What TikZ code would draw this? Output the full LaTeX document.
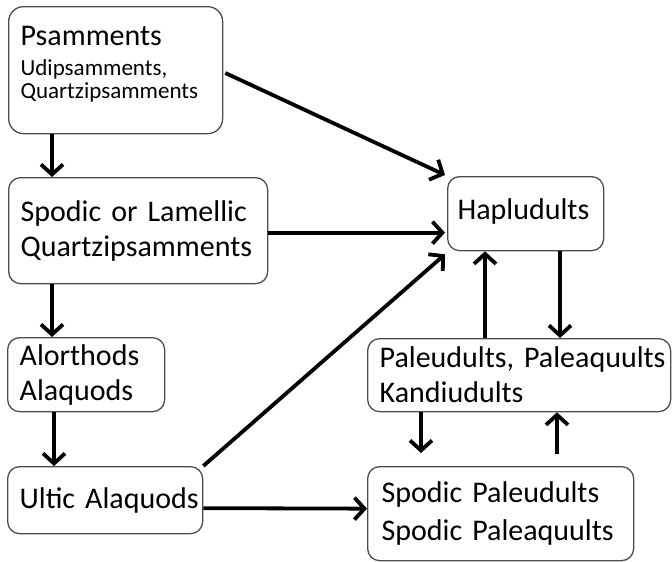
\documentclass[tikz,border=0pt]{standalone}
\usepackage{fontspec}
\setmainfont{Carlito}
\usepackage{tikz}
\usetikzlibrary{
  arrows.meta,
  calc,         % Calculations $...$
}
\def\mybig{\fontsize{30}{35}\selectfont}
\def\mysmall{\fontsize{23}{23}\selectfont}
\tikzset{
  font=\mybig,
  my box/.style={
    draw=black!70,
    line width=1.3pt,
    rounded corners=12pt,
    inner xsep=12pt,
    inner ysep=0pt,
    align=left,
    anchor=north west
  },
  my arrow/.style={
    -{Straight Barb[length=10pt,width=22pt]},
    line width=3.8pt
  }
}
\begin{document}
\begin{tikzpicture}[x=1pt,y=-1pt]
\useasboundingbox (0,0) rectangle (672,562);
% boxes (top left corner at pixel position; lines in \mbox, so they never wrap)
\node[my box,font=\mysmall,text width=190pt,minimum width=214pt,minimum height=127pt,rounded corners=15pt] (psam) at (8,6)
  {\mbox{\mybig Psamments}\\[7pt]\mbox{Udipsamments,}\\\mbox{Quartzipsamments}\rule[-15pt]{0pt}{1pt}};
\node[my box,text width=235pt,minimum width=259pt,minimum height=106pt] (spod) at (8,177)
  {\mbox{Spodic or Lamellic}\\\mbox{Quartzipsamments}};
\node[my box,text width=133pt,minimum width=157pt,minimum height=74pt] (alor) at (7,337)
  {\mbox{Alorthods}\\\mbox{Alaquods}};
\node[my box,text width=171pt,minimum width=195pt,minimum height=67pt] (ult) at (7,466)
  {\mbox{Ultic Alaquods}};
\node[my box,text width=136pt,minimum width=156pt,minimum height=74pt,inner xsep=10pt] (hap) at (447,176)
  {\mbox{Hapludults}\rule[-9pt]{0pt}{1pt}};
\node[my box,text width=279pt,minimum width=303pt,minimum height=73pt,inner xsep=11pt] (pal) at (367,338)
  {\mbox{Paleudults, Paleaquults}\\\mbox{Kandiudults}};
\node[my box,text width=238pt,minimum width=266pt,minimum height=94pt,inner xsep=14pt] (sppal) at (367,466)
  {\mbox{Spodic Paleudults}\\[3pt]\mbox{Spodic Paleaquults}};
% connectors
\draw[my arrow] ($(psam.south west)+(44,0)$) -- ($(spod.north west)+(44,0)$);
\draw[my arrow] ($(spod.south west)+(44,0)$) -- ($(alor.north west)+(45,0)$);
\draw[my arrow] ($(alor.south west)+(47,0)$) -- ($(ult.north west)+(47,0)$);
\draw[my arrow] ($(psam.north east)+(2,67)$) -- ($(hap.north west)+(-2,-1)$);
\draw[my arrow] ($(spod.east)+(0,2)$) -- ($(hap.west)+(-2,19)$);
\draw[my arrow] (ult.north east) -- ($(hap.south west)+(-2,3)$);
\draw[my arrow] ($(ult.east)+(0,8)$) -- ($(sppal.west)+(0,-5)$);
\draw[my arrow] ($(pal.north west)+(118,0)$) -- ($(hap.south west)+(38,0)$);
\draw[my arrow] ($(hap.south west)+(113,0)$) -- ($(pal.north west)+(193,0)$);
\draw[my arrow] ($(pal.south west)+(54,0)$) -- ($(sppal.north west)+(54,-13)$);
\draw[my arrow] ($(sppal.north west)+(190,-12)$) -- ($(pal.south west)+(190,0)$);
\end{tikzpicture}
\end{document}
